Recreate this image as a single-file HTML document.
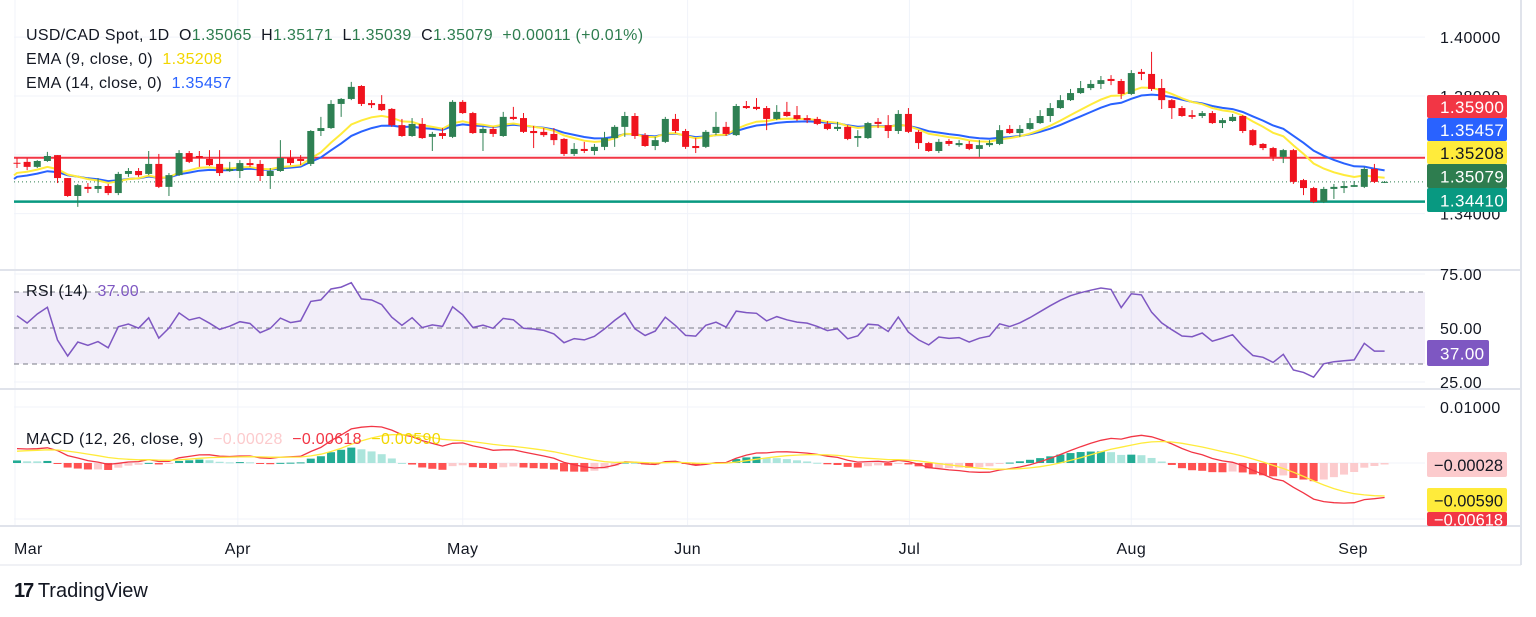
<!DOCTYPE html>
<html><head><meta charset="utf-8"><style>
html,body{margin:0;padding:0;background:#fff;width:1536px;height:617px;overflow:hidden}
svg{display:block;font-family:"Liberation Sans","DejaVu Sans",sans-serif}
.lg{position:absolute;left:26px;font:16px 'Liberation Sans',sans-serif;letter-spacing:0.3px;color:#131722;white-space:pre}
</style></head><body>
<svg id="chart" width="1536" height="617" viewBox="0 0 1536 617" xmlns="http://www.w3.org/2000/svg">
<rect x="0" y="0" width="1536" height="617" fill="#fff"/>
<g id="grid"></g>
<g id="panes"></g>
<g id="marks"></g>
<g id="labels"></g>
</svg>
<script>
const opens=[1.3573,1.3576,1.3559,1.3579,1.3599,1.3521,1.3460,1.3491,1.3484,1.3494,1.3470,1.3535,1.3545,1.3535,1.3569,1.3491,1.3531,1.3606,1.3596,1.3586,1.3569,1.3545,1.3545,1.3572,1.3569,1.3528,1.3545,1.3589,1.3586,1.3569,1.3681,1.3691,1.3773,1.3790,1.3834,1.3776,1.3773,1.3756,1.3701,1.3664,1.3705,1.3661,1.3674,1.3661,1.3780,1.3742,1.3674,1.3688,1.3664,1.3729,1.3725,1.3681,1.3678,1.3671,1.3654,1.3603,1.3620,1.3613,1.3627,1.3657,1.3695,1.3732,1.3667,1.3630,1.3644,1.3722,1.3681,1.3630,1.3627,1.3674,1.3695,1.3667,1.3766,1.3763,1.3759,1.3722,1.3746,1.3735,1.3725,1.3722,1.3705,1.3688,1.3695,1.3657,1.3657,1.3712,1.3701,1.3681,1.3739,1.3678,1.3640,1.3613,1.3647,1.3633,1.3637,1.3620,1.3633,1.3637,1.3688,1.3674,1.3688,1.3708,1.3732,1.3759,1.3786,1.3810,1.3827,1.3841,1.3858,1.3851,1.3807,1.3882,1.3875,1.3827,1.3786,1.3759,1.3735,1.3732,1.3742,1.3708,1.3715,1.3732,1.3684,1.3637,1.3623,1.3593,1.3616,1.3514,1.3487,1.3440,1.3484,1.3487,1.3491,1.3491,1.3552,1.3507];
const closes=[1.3572,1.3559,1.3579,1.3596,1.3521,1.3460,1.3497,1.3484,1.3494,1.3470,1.3535,1.3545,1.3531,1.3569,1.3491,1.3531,1.3606,1.3576,1.3589,1.3565,1.3538,1.3552,1.3572,1.3565,1.3528,1.3545,1.3589,1.3572,1.3579,1.3681,1.3691,1.3773,1.3790,1.3831,1.3773,1.3769,1.3752,1.3701,1.3664,1.3705,1.3657,1.3671,1.3664,1.3780,1.3742,1.3674,1.3688,1.3671,1.3729,1.3722,1.3678,1.3674,1.3667,1.3650,1.3603,1.3620,1.3613,1.3627,1.3657,1.3695,1.3732,1.3664,1.3630,1.3650,1.3722,1.3681,1.3627,1.3623,1.3678,1.3695,1.3671,1.3766,1.3759,1.3756,1.3722,1.3746,1.3732,1.3722,1.3718,1.3705,1.3688,1.3695,1.3654,1.3664,1.3708,1.3705,1.3681,1.3739,1.3678,1.3640,1.3613,1.3644,1.3637,1.3640,1.3620,1.3633,1.3640,1.3684,1.3674,1.3688,1.3708,1.3732,1.3759,1.3786,1.3810,1.3827,1.3841,1.3854,1.3851,1.3807,1.3878,1.3875,1.3824,1.3786,1.3759,1.3732,1.3729,1.3742,1.3708,1.3718,1.3729,1.3681,1.3633,1.3623,1.3593,1.3616,1.3508,1.3487,1.3440,1.3484,1.3491,1.3494,1.3497,1.3552,1.3508,1.3508];
const highs=[1.3589,1.3589,1.3582,1.3610,1.3599,1.3521,1.3501,1.3504,1.3521,1.3501,1.3542,1.3555,1.3555,1.3613,1.3603,1.3538,1.3616,1.3613,1.3613,1.3616,1.3616,1.3576,1.3582,1.3586,1.3582,1.3555,1.3650,1.3616,1.3599,1.3684,1.3729,1.3786,1.3793,1.3848,1.3837,1.3786,1.3803,1.3759,1.3722,1.3725,1.3725,1.3678,1.3691,1.3786,1.3786,1.3746,1.3695,1.3695,1.3746,1.3763,1.3742,1.3698,1.3691,1.3691,1.3657,1.3640,1.3644,1.3637,1.3678,1.3701,1.3746,1.3742,1.3674,1.3661,1.3729,1.3739,1.3688,1.3657,1.3684,1.3746,1.3712,1.3773,1.3783,1.3793,1.3766,1.3769,1.3780,1.3766,1.3735,1.3729,1.3715,1.3712,1.3701,1.3684,1.3712,1.3725,1.3735,1.3752,1.3759,1.3684,1.3644,1.3654,1.3654,1.3650,1.3647,1.3650,1.3650,1.3701,1.3701,1.3701,1.3725,1.3752,1.3776,1.3803,1.3824,1.3851,1.3854,1.3868,1.3871,1.3858,1.3888,1.3892,1.3950,1.3858,1.3790,1.3766,1.3752,1.3749,1.3749,1.3725,1.3739,1.3735,1.3688,1.3640,1.3627,1.3620,1.3620,1.3518,1.3491,1.3491,1.3501,1.3511,1.3511,1.3559,1.3569,1.3511];
const lows=[1.3555,1.3548,1.3555,1.3576,1.3504,1.3457,1.3423,1.3470,1.3470,1.3463,1.3463,1.3525,1.3525,1.3531,1.3487,1.3460,1.3528,1.3572,1.3559,1.3562,1.3528,1.3542,1.3521,1.3559,1.3511,1.3484,1.3542,1.3565,1.3565,1.3562,1.3664,1.3688,1.3729,1.3786,1.3766,1.3759,1.3749,1.3695,1.3661,1.3661,1.3654,1.3613,1.3654,1.3657,1.3739,1.3671,1.3613,1.3661,1.3661,1.3718,1.3674,1.3623,1.3661,1.3633,1.3596,1.3596,1.3606,1.3599,1.3616,1.3627,1.3661,1.3654,1.3627,1.3616,1.3640,1.3674,1.3620,1.3606,1.3623,1.3667,1.3664,1.3664,1.3756,1.3752,1.3684,1.3718,1.3729,1.3715,1.3708,1.3701,1.3684,1.3681,1.3650,1.3627,1.3654,1.3691,1.3657,1.3671,1.3674,1.3620,1.3610,1.3606,1.3630,1.3627,1.3616,1.3593,1.3627,1.3633,1.3671,1.3661,1.3684,1.3705,1.3712,1.3756,1.3783,1.3807,1.3820,1.3824,1.3837,1.3790,1.3803,1.3854,1.3817,1.3756,1.3722,1.3729,1.3722,1.3725,1.3705,1.3691,1.3712,1.3674,1.3630,1.3616,1.3579,1.3572,1.3501,1.3463,1.3436,1.3436,1.3450,1.3470,1.3491,1.3487,1.3504,1.3504];
const monthLabels=['Mar','Apr','May','Jun','Jul','Aug','Sep'];
const monthIdx=[-0.2,21.8,44,66.2,88.1,110,131.9];
const priceTicks=[1.40,1.38,1.36,1.34];
const rsiTicks=[75,50,25];
const macdTicks=[0.01,0,-0.01];
const resistance=1.3590, support=1.3441;

const NS='http://www.w3.org/2000/svg';
function mk(tag,attrs,parent,text){const e=document.createElementNS(NS,tag);for(const k in attrs)e.setAttribute(k,attrs[k]);if(text!==undefined)e.textContent=text;parent.appendChild(e);return e;}
const grid=document.getElementById('grid'),panes=document.getElementById('panes'),marks=document.getElementById('marks'),labels=document.getElementById('labels');
const PL=14,PR=1425;
const xOf=i=>17+i*10.13;
const yP=p=>96+(1.38-p)*2941;
const yR=v=>328-(v-50)*1.8;
const yM=v=>463-v*5600;
const AX={'font-size':16,'letter-spacing':0.4,fill:'#131722'};
function ax(o){return Object.assign({},AX,o);}

monthIdx.forEach((m,k)=>{const x=xOf(m);
 const gl=mk('line',{x1:x,x2:x,y1:0,y2:526,stroke:'#f0f3fa','stroke-width':1},grid);
 
 
 const t=mk('text',ax({x:k==0?PL:x,y:554,'text-anchor':k==0?'start':'middle'}),labels,monthLabels[k]);
 
 
});
priceTicks.forEach(p=>{const y=yP(p);
 const gl=mk('line',{x1:PL,x2:PR,y1:y,y2:y,stroke:'#f0f3fa'},grid);
 
 
 const t=mk('text',ax({x:1440,y:y+6}),labels,p.toFixed(5));
 
 
});
rsiTicks.forEach(v=>{const y=yR(v)+(v==75?-9:v==25?9:0);
 const t=mk('text',ax({x:1440,y:y+6}),labels,v.toFixed(2));
 
 
 if(v!==50){const gl=mk('line',{x1:PL,x2:PR,y1:y,y2:y,stroke:'#f0f3fa'},grid);
 
 }
});
macdTicks.forEach(v=>{const y=yM(v);
 const gl=mk('line',{x1:PL,x2:PR,y1:y,y2:y,stroke:'#f0f3fa'},grid);
 
 
 if(v>0){const t=mk('text',ax({x:1440,y:y+6}),labels,v.toFixed(5));
 
 }
});
[270,389,526].forEach(y=>{const l=mk('line',{x1:0,x2:1521,y1:y,y2:y,stroke:'#e0e3eb','stroke-width':2},panes);
 
 });
const vb=mk('line',{x1:1521,x2:1521,y1:0,y2:565,stroke:'#e0e3eb','stroke-width':2},panes);


const bb=mk('line',{x1:0,x2:1521,y1:565,y2:565,stroke:'#e0e3eb','stroke-width':1},panes);



const band=mk('rect',{x:PL,y:yR(70),width:PR-PL,height:yR(30)-yR(70),fill:'#7e57c2','fill-opacity':0.1},panes);


[70,50,30].forEach(v=>{const l=mk('line',{x1:PL,x2:PR,y1:yR(v),y2:yR(v),stroke:'#787b86','stroke-dasharray':'5,4','stroke-width':1},panes);
 
 });

const rl=mk('line',{x1:PL,x2:PR,y1:yP(resistance),y2:yP(resistance),stroke:'#f23645','stroke-width':2},marks);


const sl=mk('line',{x1:PL,x2:PR,y1:yP(support),y2:yP(support),stroke:'#089981','stroke-width':2.5},marks);


const lastC=closes[closes.length-1];
const cl=mk('line',{x1:PL,x2:PR,y1:yP(lastC),y2:yP(lastC),stroke:'#2e7d4f','stroke-dasharray':'1,3','stroke-width':1},marks);



function ema(arr,n,seed){const k=2/(n+1);let e=seed;return arr.map(v=>(e=v*k+e*(1-k)));}
const ema9=ema(closes,9,1.3530), ema14=ema(closes,14,1.3518);
function pathOf(vals,yf){return vals.map((v,i)=>(i?'L':'M')+xOf(i).toFixed(1)+','+yf(v).toFixed(1)).join('');}
const e14=mk('path',{d:'M'+PL+','+yP(1.3518)+pathOf(ema14,yP).replace('M','L'),fill:'none',stroke:'#2962ff','stroke-width':2},marks);


const e9=mk('path',{d:'M'+PL+','+yP(1.3530)+pathOf(ema9,yP).replace('M','L'),fill:'none',stroke:'#ffeb3b','stroke-width':2},marks);



closes.forEach((c,i)=>{const o=opens[i],x=xOf(i),up=c>=o,col=up?'#2e8053':'#f0131e';
 const g=mk('g',{},marks);
 
 
 mk('line',{x1:x,x2:x,y1:yP(highs[i]),y2:yP(lows[i]),stroke:col,'stroke-width':1},g);
 const top=yP(Math.max(o,c)),bot=yP(Math.min(o,c));
 mk('rect',{x:x-3.5,y:top,width:7,height:Math.max(1,bot-top),fill:col},g);
});

const rsi=[];let ag=0.0008,al=0.0006;
closes.forEach((c,i)=>{const prev=i?closes[i-1]:opens[0];const d=c-prev;ag=(ag*13+Math.max(d,0))/14;al=(al*13+Math.max(-d,0))/14;rsi.push(100-100/(1+ag/al));});
const rp=mk('path',{d:pathOf(rsi,yR),fill:'none',stroke:'#7e57c2','stroke-width':1.5},marks);



const e12=ema(closes,12,1.3540),e26=ema(closes,26,1.3515);
const macd=e12.map((v,i)=>v-e26[i]);
const sig=ema(macd,9,0.0020);
const hist=macd.map((v,i)=>v-sig[i]);
hist.forEach((h,i)=>{const prev=i?hist[i-1]:0;let col;
 if(h>=0)col=h>=prev?'#22ab94':'#ace5dc';else col=h<prev?'#ff5252':'#fccbcd';
 const y0=yM(0),y1=yM(h);
 const r=mk('rect',{x:xOf(i)-4,y:Math.min(y0,y1),width:8,height:Math.max(1,Math.abs(y1-y0)),fill:col},marks);
 
 
});
const mp=mk('path',{d:pathOf(macd,yM),fill:'none',stroke:'#f23645','stroke-width':1.3},marks);


const sp=mk('path',{d:pathOf(sig,yM),fill:'none',stroke:'#ffeb3b','stroke-width':1.3},marks);



function box(y,h,bg,fg,txt,name,w){const g=mk('g',{},labels);
 
 
 mk('rect',{x:1427,y:y,width:w||80,height:h,fill:bg,rx:2},g);
 const a={x:txt[0]=='−'?1434:1440,y:y+h/2+6.5,'font-size':17,fill:fg};
 if(txt[0]=='−'){a.textLength=69;a.lengthAdjust='spacingAndGlyphs';}else a['letter-spacing']=0.4;
 mk('text',a,g,txt);}
box(95,23,'#f23645','#fff','1.35900','resistance-price-label');
box(118,23,'#2962ff','#fff','1.35457','ema14-price-label');
box(141,23,'#ffeb3b','#131722','1.35208','ema9-price-label');
box(164,24,'#2e7d4f','#fff','1.35079','close-price-label');
box(188,24,'#089981','#fff','1.34410','support-price-label');
box(340,26,'#7e57c2','#fff','37.00','rsi-value-label',62);
box(452,25,'#fccbcd','#131722','−0.00028','histogram-value-label');
box(488,24,'#ffeb3b','#131722','−0.00590','signal-value-label');
box(512,14,'#f23645','#fff','−0.00618','macd-value-label');
</script>
<div class="lg" style="top:27px">USD/CAD Spot, 1D  O<span style="color:#2e7d4f">1.35065</span>  H<span style="color:#2e7d4f">1.35171</span>  L<span style="color:#2e7d4f">1.35039</span>  C<span style="color:#2e7d4f">1.35079</span>  <span style="color:#2e7d4f">+0.00011 (+0.01%)</span></div>
<div class="lg" style="top:51px">EMA (9, close, 0)  <span style="color:#f2d600">1.35208</span></div>
<div class="lg" style="top:75px">EMA (14, close, 0)  <span style="color:#2962ff">1.35457</span></div>
<div class="lg" style="top:283px">RSI (14)  <span style="color:#7e57c2">37.00</span></div>
<div class="lg" style="top:431px">MACD (12, 26, close, 9)  <span style="color:#fccbcd">−0.00028</span>  <span style="color:#f23645">−0.00618</span>  <span style="color:#f2d600">−0.00590</span></div>
<div style="position:absolute;left:14px;top:580px;font:bold 20px 'Liberation Sans',sans-serif;color:#131722;white-space:pre"><span style="font-weight:900;letter-spacing:-2px">17</span> <span style="font-weight:normal">TradingView</span></div>
</body></html>
